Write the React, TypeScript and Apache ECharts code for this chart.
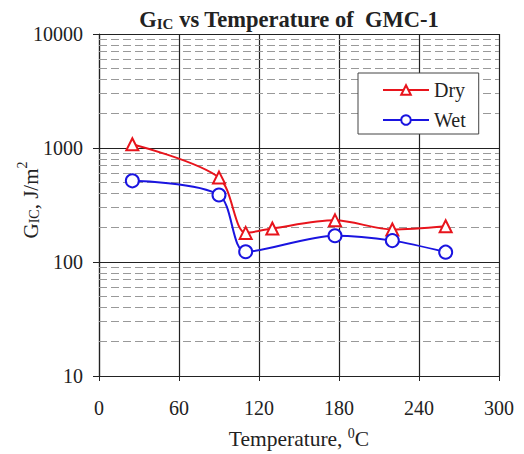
import React, { useEffect, useRef } from "react";
import * as echarts from "echarts";

const dryX = [25, 90, 110, 130, 177, 220, 260];
const dryY = [1080, 550, 180, 197, 232, 193, 206];
const wetX = [25, 90, 110, 177, 220, 260];
const wetY = [515, 387, 123, 170, 154, 122];
const minorGrid = [20, 30, 40, 50, 60, 70, 80, 90, 200, 300, 400, 500, 600, 700, 800, 900, 2000, 3000, 4000, 5000, 6000, 7000, 8000, 9000];

const FONT = "Liberation Serif";

export default function App() {
  const ref = useRef<HTMLDivElement>(null);
  useEffect(() => {
    const chart = echarts.init(ref.current!, undefined, { renderer: "svg" });
    chart.setOption({
      animation: false,
      backgroundColor: "#fff",
      textStyle: { fontFamily: FONT },
      title: {
        text: "{a|G}{s|IC}{a| vs Temperature of  GMC-1}",
        left: 284,
        textAlign: "center",
        top: 0,
        textStyle: {
          rich: {
            a: { fontFamily: FONT, fontSize: 22.5, fontWeight: "bold", color: "#222", lineHeight: 26, verticalAlign: "bottom" },
            s: { fontFamily: FONT, fontSize: 15, fontWeight: "bold", color: "#222", verticalAlign: "bottom", lineHeight: 22 },
          },
        },
      },
      graphic: [
        {
          type: "text",
          x: 28,
          y: 200,
          rotation: Math.PI / 2,
          z: 10,
          style: {
            text: "{a|G}{s|IC}{a|, J/m}{p|2}",
            align: "center",
            verticalAlign: "middle",
            rich: {
              a: { fontFamily: FONT, fontSize: 21, fill: "#222", lineHeight: 26, verticalAlign: "bottom" },
              s: { fontFamily: FONT, fontSize: 14, fill: "#222", verticalAlign: "bottom", lineHeight: 21 },
              p: { fontFamily: FONT, fontSize: 14, fill: "#222", verticalAlign: "top", lineHeight: 26 },
            },
          },
        },
      ],
      grid: { left: 99, right: 25, top: 34, bottom: 78, outerBoundsMode: "none", containLabel: false },
      legend: {
        data: ["Dry", "Wet"],
        orient: "vertical",
        left: 358,
        top: 73,
        z: 20,
        padding: [7, 13, 4, 24],
        itemGap: 10,
        itemWidth: 46,
        itemHeight: 12,
        borderColor: "#444",
        borderWidth: 1,
        borderRadius: 0,
        backgroundColor: "#fff",
        textStyle: { fontFamily: FONT, fontSize: 20, color: "#222", lineHeight: 20 },
      },
      xAxis: {
        type: "value",
        min: 0,
        max: 300,
        interval: 60,
        name: "Temperature, {sup|0}C",
        nameLocation: "middle",
        nameGap: 50,
        nameTextStyle: {
          fontFamily: FONT,
          fontSize: 21.5,
          color: "#222",
          rich: {
            sup: { fontFamily: FONT, fontSize: 14, color: "#222", verticalAlign: "top", lineHeight: 25 },
          },
        },
        axisLine: { lineStyle: { color: "#222", width: 1.2 } },
        axisTick: { show: true, length: 5, lineStyle: { color: "#222" } },
        axisLabel: { fontFamily: FONT, fontSize: 20, color: "#222", margin: 22 },
        splitLine: { show: true, lineStyle: { color: "#222", width: 1.2 } },
      },
      yAxis: {
        type: "log",
        logBase: 10,
        min: 10,
        max: 10000,
        axisLine: { show: true, lineStyle: { color: "#222", width: 1.2 } },
        axisTick: { show: true, length: 6, lineStyle: { color: "#222" } },
        axisLabel: { fontFamily: FONT, fontSize: 20, color: "#222", margin: 16, formatter: (v: number) => String(Math.round(v)) },
        splitLine: { show: true, lineStyle: { color: "#222", width: 1.2 } },
      },
      series: [
        {
          name: "grid",
          type: "line",
          data: [],
          z: 1,
          silent: true,
          markLine: {
            silent: true,
            z: 1,
            symbol: ["none", "none"],
            label: { show: false },
            lineStyle: { type: [8, 4], color: "#999", width: 1.2 },
            data: minorGrid.map((v) => ({ yAxis: v })),
          },
        },
        {
          name: "Dry",
          type: "line",
          smooth: 0.3,
          z: 3,
          data: dryX.map((x, i) => [x, dryY[i]]),
          symbol: "triangle",
          symbolSize: 12,
          itemStyle: { color: "#fff", borderColor: "#e8141c", borderWidth: 2 },
          lineStyle: { color: "#e8141c", width: 2 },
        },
        {
          name: "Wet",
          type: "line",
          smooth: 0.3,
          z: 3,
          data: wetX.map((x, i) => [x, wetY[i]]),
          symbol: "circle",
          symbolSize: 13,
          itemStyle: { color: "#fff", borderColor: "#1a14e0", borderWidth: 2 },
          lineStyle: { color: "#1a14e0", width: 2 },
        },
      ],
    });
    return () => chart.dispose();
  }, []);
  return <div ref={ref} style={{ width: 524, height: 454, position: "absolute", left: 0, top: 0 }} />;
}
